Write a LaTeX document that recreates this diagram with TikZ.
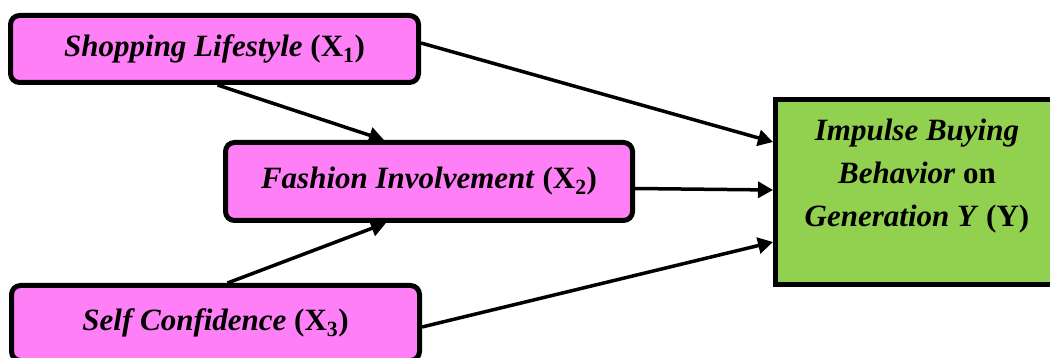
\documentclass[tikz,border=0pt]{standalone}
\usepackage{fontspec}
\setmainfont{Liberation Serif}
\usetikzlibrary{arrows.meta}
\definecolor{pinkfill}{RGB}{255,128,246}
\definecolor{greenfill}{RGB}{146,208,80}
\begin{document}
\begin{tikzpicture}[x=1pt,y=-1pt,
  xbox/.style={draw=black, line width=5pt, fill=pinkfill, rounded corners=9pt,
    inner sep=0pt, font=\fontsize{31}{36}\selectfont\bfseries},
  ybox/.style={draw=black, line width=5pt, fill=greenfill, inner sep=0pt},
  ytext/.style={align=center, font=\fontsize{31}{43}\selectfont\bfseries},
  arr/.style={line width=3.5pt, -{Triangle[length=15pt,width=16pt]}}]
\useasboundingbox (0,0) rectangle (1050,358);
\clip (0,0) rectangle (1050,358);
\node[xbox, minimum width=408pt, minimum height=67pt] (x1) at (214.5,49)
  {\textit{Shopping Lifestyle} (X\textsubscript{1})};
\node[xbox, minimum width=407pt, minimum height=78pt] (x2) at (429,181.5)
  {\textit{Fashion Involvement} (X\textsubscript{2})};
\node[xbox, minimum width=408pt, minimum height=75pt] (x3) at (215.5,323)
  {\textit{Self Confidence} (X\textsubscript{3})};
\node[ybox, minimum width=283pt, minimum height=185pt] (y) at (917,192) {};
\node[ytext] (yt) at (917,176) {\textit{Impulse Buying}\\\textit{Behavior} on\\\textit{Generation Y} (Y)};
\draw[arr] ([yshift=6pt]x1.east) -- ([yshift=50pt]y.west);
\draw[arr] ([xshift=3pt]x1.south) -- ([xshift=-45pt]x2.north);
\draw[arr] ([yshift=-7pt]x2.east) -- ([yshift=2pt]y.west);
\draw[arr] ([xshift=12pt]x3.north) -- ([xshift=-43pt]x2.south);
\draw[arr] ([yshift=-4pt]x3.east) -- ([yshift=-50pt]y.west);
\end{tikzpicture}
\end{document}
